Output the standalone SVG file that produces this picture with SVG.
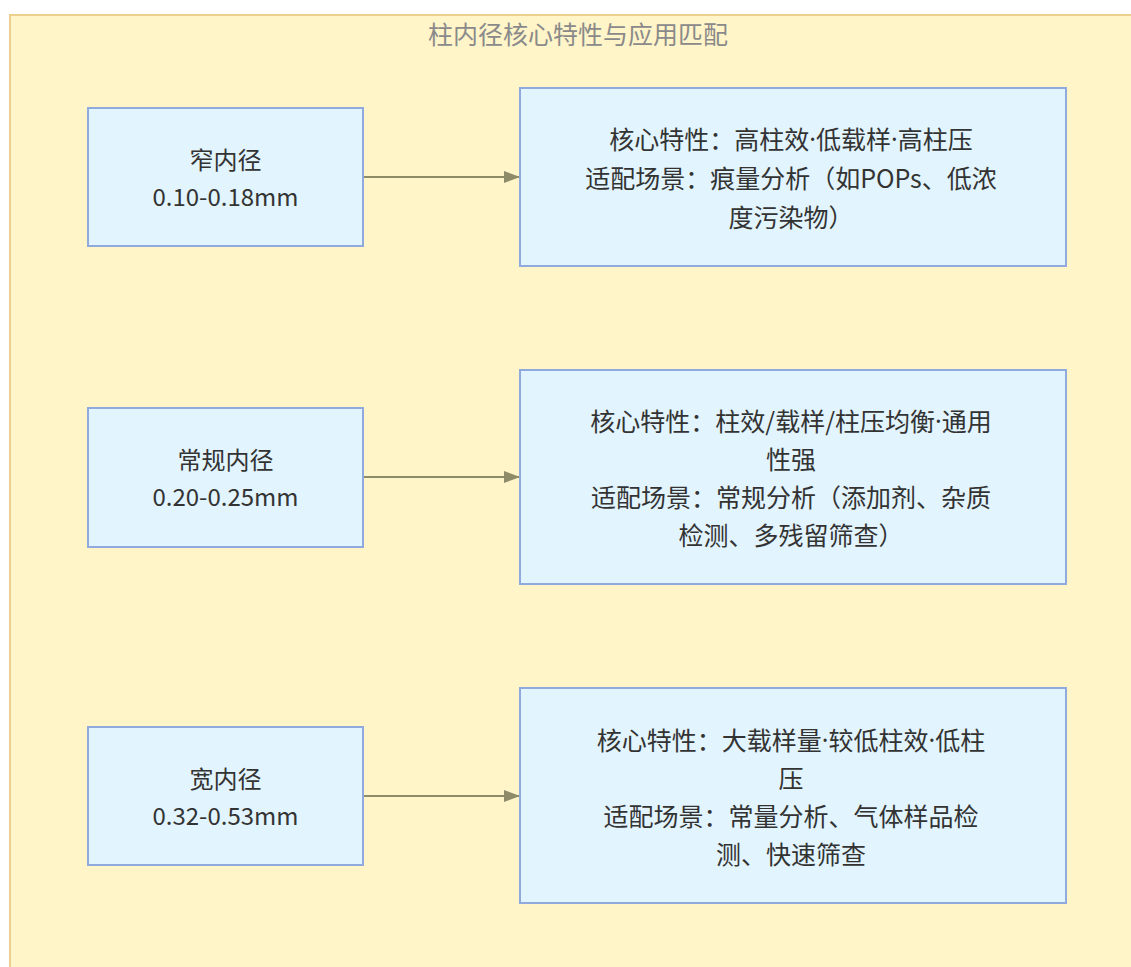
<svg xmlns="http://www.w3.org/2000/svg" width="1131" height="967" viewBox="0 0 1131 967">
  <style>
    .cluster { fill: #fff5c9; stroke: #ecce8e; stroke-width: 2; }
    .title { font-family: "Noto Sans CJK SC", "Noto Sans", sans-serif; font-size: 25px; fill: #8a8a8a; text-anchor: middle; }
    .node rect { fill: #e2f4fd; stroke: #91aade; stroke-width: 2; }
    .node text { font-family: "Noto Sans CJK SC", "Noto Sans", sans-serif; font-size: 24px; fill: #333333; text-anchor: middle; dominant-baseline: central; }
    .info text { font-size: 25px; }
    .dot { font-family: "Noto Sans", "DejaVu Sans", sans-serif; }
    .edge { stroke: #8d8b68; stroke-width: 2; fill: none; }
  </style>
  <defs>
    <marker id="arrowhead" viewBox="0 0 16 12" refX="16" refY="6" markerWidth="16" markerHeight="12" markerUnits="userSpaceOnUse" orient="auto">
      <path d="M0,0 L16,6 L0,12 Z" fill="#8d8b68"/>
    </marker>
  </defs>
  <rect width="1131" height="967" fill="#ffffff"/>
  <g id="cluster">
    <rect class="cluster" x="10" y="15" width="1140" height="970"/>
    <text class="title" x="578" y="44">柱内径核心特性与应用匹配</text>
  </g>
  <g id="edges">
    <path class="edge" d="M363,177 L520,177" marker-end="url(#arrowhead)"/>
    <path class="edge" d="M363,477 L520,477" marker-end="url(#arrowhead)"/>
    <path class="edge" d="M363,796 L520,796" marker-end="url(#arrowhead)"/>
  </g>
  <g id="narrow" class="node">
    <rect x="88" y="108" width="275" height="138"/>
    <text x="225.5" y="158">窄内径</text>
    <text x="225.5" y="195">0.10-0.18mm</text>
  </g>
  <g id="narrow-info" class="node info">
    <rect x="520" y="88" width="546" height="178"/>
    <text x="791" y="138">核心特性：高柱效<tspan class="dot">·</tspan>低载样<tspan class="dot">·</tspan>高柱压</text>
    <text x="791" y="177">适配场景：痕量分析（如POPs、低浓</text>
    <text x="791" y="216">度污染物）</text>
  </g>
  <g id="regular" class="node">
    <rect x="88" y="408" width="275" height="139"/>
    <text x="225.5" y="458">常规内径</text>
    <text x="225.5" y="495">0.20-0.25mm</text>
  </g>
  <g id="regular-info" class="node info">
    <rect x="520" y="370" width="546" height="214"/>
    <text x="791" y="420">核心特性：柱效/载样/柱压均衡<tspan class="dot">·</tspan>通用</text>
    <text x="791" y="458">性强</text>
    <text x="791" y="496">适配场景：常规分析（添加剂、杂质</text>
    <text x="791" y="534">检测、多残留筛查）</text>
  </g>
  <g id="wide" class="node">
    <rect x="88" y="727" width="275" height="138"/>
    <text x="225.5" y="777">宽内径</text>
    <text x="225.5" y="814">0.32-0.53mm</text>
  </g>
  <g id="wide-info" class="node info">
    <rect x="520" y="688" width="546" height="215"/>
    <text x="791" y="739">核心特性：大载样量<tspan class="dot">·</tspan>较低柱效<tspan class="dot">·</tspan>低柱</text>
    <text x="791" y="777">压</text>
    <text x="791" y="815">适配场景：常量分析、气体样品检</text>
    <text x="791" y="853">测、快速筛查</text>
  </g>
</svg>
